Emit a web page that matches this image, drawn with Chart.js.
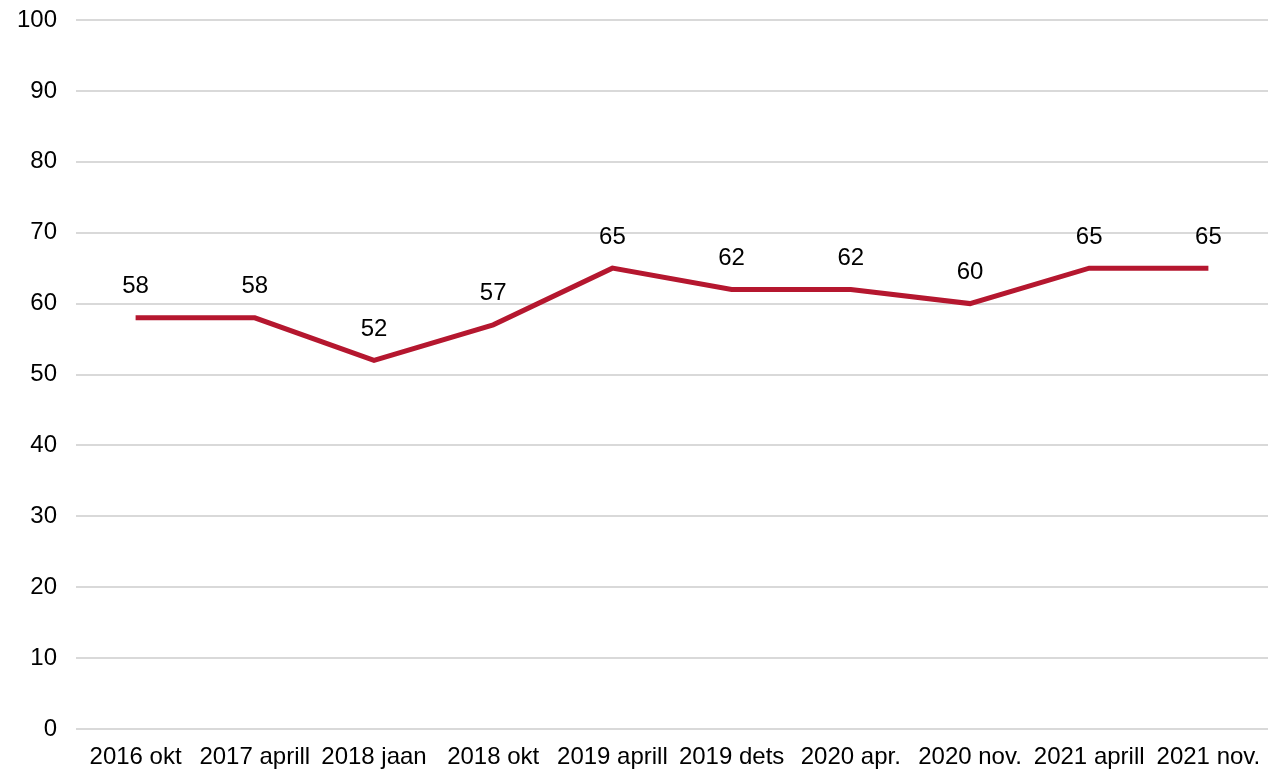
<!DOCTYPE html>
<html>
<head>
<meta charset="utf-8">
<script src="https://cdn.jsdelivr.net/npm/chart.js@4"></script>
<style>
  html, body { margin: 0; padding: 0; background: #fff; }
  #wrap { width: 1278px; height: 772px; }
</style>
</head>
<body>
<div id="wrap"><canvas id="myChart" width="1278" height="772"></canvas></div>
<script>
const categories = ['2016 okt', '2017 aprill', '2018 jaan', '2018 okt', '2019 aprill', '2019 dets', '2020 apr.', '2020 nov.', '2021 aprill', '2021 nov.'];
const values = [58, 58, 52, 57, 65, 62, 62, 60, 65, 65];
const yTicks = [0, 10, 20, 30, 40, 50, 60, 70, 80, 90, 100];

const FONT = '"Liberation Sans", Arial, sans-serif';

// draw the value above each point
const valueLabels = {
    id: 'valueLabels',
    afterDatasetsDraw(chart) {
        const ctx = chart.ctx;
        const meta = chart.getDatasetMeta(0);
        ctx.save();
        ctx.font = '24px ' + FONT;
        ctx.fillStyle = '#000';
        ctx.textAlign = 'center';
        ctx.textBaseline = 'middle';
        meta.data.forEach((pt, i) => {
            ctx.fillText(String(values[i]), pt.x, pt.y - 31);
        });
        ctx.restore();
    }
};

new Chart(document.getElementById('myChart'), {
    type: 'line',
    data: {
        labels: categories,
        datasets: [{
            data: values,
            borderColor: '#B5172F',
            borderWidth: 5,
            pointRadius: 0,
            tension: 0,
            fill: false
        }]
    },
    options: {
        responsive: false,
        animation: false,
        layout: { padding: { top: 20, right: 10, left: 0, bottom: 0 } },
        plugins: {
            legend: { display: false },
            tooltip: { enabled: false }
        },
        scales: {
            x: {
                offset: true,
                grid: { display: false, drawTicks: false },
                border: { display: false },
                ticks: {
                    color: '#000',
                    font: { family: FONT, size: 24 },
                    padding: 14,
                    maxRotation: 0,
                    autoSkip: false
                },
                afterFit(scale) {
                    scale.height = 43;
                    scale.paddingLeft = 0;
                    scale.paddingRight = 0;
                }
            },
            y: {
                min: 0,
                max: 100,
                afterBuildTicks(scale) { scale.ticks = yTicks.map(v => ({ value: v })); },
                grid: { color: '#d9d9d9', lineWidth: 2, drawTicks: false },
                border: { display: false },
                ticks: {
                    color: '#000',
                    font: { family: FONT, size: 24 },
                    padding: 19
                },
                afterFit(scale) {
                    scale.width = 76;
                    scale.paddingTop = 0;
                    scale.paddingBottom = 0;
                }
            }
        }
    },
    plugins: [valueLabels]
});
</script>
</body>
</html>
